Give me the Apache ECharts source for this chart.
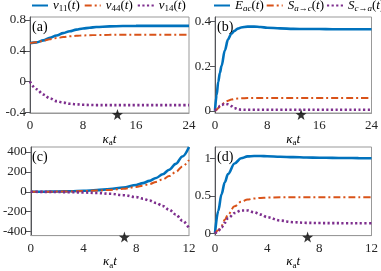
<!DOCTYPE html>
<html><head><meta charset="utf-8">
<script src="https://cdn.jsdelivr.net/npm/echarts@6/dist/echarts.min.js"></script>
<style>html,body{margin:0;padding:0;background:#fff}#c{width:381px;height:271px}</style>
</head><body><div id="c"></div>
<script>
// Panel (a)
const tA   = [0, 1, 2, 3, 4, 5, 6, 7, 8, 9, 10, 12, 14, 16, 18, 20, 22, 24];
const v11A = [0.5, 0.51, 0.535, 0.57, 0.6, 0.63, 0.655, 0.675, 0.69, 0.70, 0.71, 0.718, 0.722, 0.724, 0.725, 0.725, 0.725, 0.725];
const v44A = [0.5, 0.51, 0.53, 0.55, 0.565, 0.578, 0.588, 0.595, 0.6, 0.603, 0.605, 0.608, 0.61, 0.61, 0.61, 0.61, 0.61, 0.61];
const v14A = [0, -0.1, -0.17, -0.22, -0.255, -0.275, -0.29, -0.297, -0.302, -0.305, -0.307, -0.308, -0.308, -0.308, -0.308, -0.308, -0.308, -0.308];
// Panel (b)
const tB   = [0, 0.25, 0.5, 0.75, 1, 1.5, 2, 2.5, 3, 3.5, 4, 5, 6, 7, 8, 10, 12, 14, 16, 18, 20, 22, 24];
const eacB = [0, 0.07, 0.13, 0.17, 0.2, 0.27, 0.32, 0.345, 0.358, 0.368, 0.373, 0.377, 0.377, 0.375, 0.372, 0.369, 0.367, 0.366, 0.366, 0.365, 0.365, 0.365, 0.365];
const sacB = [0, 0.005, 0.012, 0.019, 0.026, 0.037, 0.045, 0.05, 0.053, 0.055, 0.056, 0.057, 0.057, 0.057, 0.057, 0.057, 0.057, 0.057, 0.057, 0.057, 0.057, 0.057, 0.057];
const scaB = [0, 0.008, 0.015, 0.021, 0.026, 0.031, 0.029, 0.021, 0.012, 0.007, 0.005, 0.0045, 0.0045, 0.0045, 0.0045, 0.0045, 0.0045, 0.0045, 0.0045, 0.0045, 0.0045, 0.0045, 0.0045];
// Panel (c)
const tC   = [0, 1, 2, 3, 4, 5, 6, 7, 8, 8.5, 9, 9.5, 10, 10.5, 11, 11.5, 12];
const v11C = [0, 1, 3, 6, 10, 17, 27, 43, 69, 87, 110, 139, 176, 222, 280, 355, 450];
const v44C = [0, 0.5, 2, 4, 7, 12, 19, 30, 49, 62, 78, 99, 125, 158, 200, 255, 320];
const v14C = [0, -0.5, -2, -4, -7, -12, -20, -33, -54, -69, -88, -112, -142, -180, -228, -290, -365];
// Panel (d)
const tD   = [0, 0.25, 0.5, 0.75, 1, 1.5, 2, 2.5, 3, 3.5, 4, 5, 6, 7, 8, 9, 10, 11, 12];
const eacD = [0, 0.3, 0.52, 0.68, 0.79, 0.93, 1.0, 1.025, 1.03, 1.03, 1.027, 1.02, 1.015, 1.01, 1.007, 1.005, 1.003, 1.002, 1.0];
const sacD = [0, 0.04, 0.1, 0.18, 0.25, 0.36, 0.42, 0.45, 0.465, 0.472, 0.476, 0.48, 0.48, 0.48, 0.48, 0.48, 0.48, 0.48, 0.48];
const scaD = [0, 0.03, 0.08, 0.14, 0.2, 0.27, 0.305, 0.305, 0.28, 0.25, 0.215, 0.17, 0.148, 0.14, 0.137, 0.136, 0.135, 0.135, 0.135];
// Star markers (x position, placed on the lower axis limit)
const starX = [13.2, 13.2, 7.1, 7.1];
// Axis limits and tick labels
const yMin = [-0.41, -0.01, -440, -0.03];
const yMax = [0.84, 0.42, 450, 1.15];
const yTicks = [[-0.4, 0, 0.4, 0.8], [0, 0.2, 0.4], [-400, -200, 0, 200, 400], [0, 0.5, 1]];
const xMax = [24, 24, 12, 12];
const xStep = [8, 8, 4, 4];
const panelLabels = ['(a)', '(b)', '(c)', '(d)'];
const legendA = ['v11', 'v44', 'v14'];
const legendB = ['Eac', 'Sac', 'Sca'];

const C1 = '#0072BD', C2 = '#D95319', C3 = '#7E2F8E';
const SERIF = 'Liberation Serif';
const grids = [
  {left: 30, top: 17, width: 159, height: 96},
  {left: 215, top: 17, width: 158, height: 96},
  {left: 30, top: 147, width: 159, height: 96},
  {left: 215, top: 147, width: 158, height: 96}
];
const rich = {
  i: {fontFamily: SERIF, fontStyle: 'italic', fontSize: 13, lineHeight: 16, color: '#000'},
  n: {fontFamily: SERIF, fontSize: 13, lineHeight: 16, color: '#000'},
  s: {fontFamily: SERIF, fontSize: 9, lineHeight: 9, verticalAlign: 'bottom', color: '#000'},
  si: {fontFamily: SERIF, fontStyle: 'italic', fontSize: 9, lineHeight: 9, verticalAlign: 'bottom', color: '#000'}
};
const legendText = {
  v11: '{i|v}{s|11}{n|(}{i|t}{n|)}',
  v44: '{i|v}{s|44}{n|(}{i|t}{n|)}',
  v14: '{i|v}{s|14}{n|(}{i|t}{n|)}',
  Eac: '{i|E}{si|ac}{n|(}{i|t}{n|)}',
  Sac: '{i|S}{si|a→c}{n|(}{i|t}{n|)}',
  Sca: '{i|S}{si|c→a}{n|(}{i|t}{n|)}'
};
const zip = (xs, ys) => xs.map((x, k) => [x, ys[k]]);
const styles = [
  {color: C1, width: 2.6, type: 'solid'},
  {color: C2, width: 2, type: [7, 3, 2, 3]},
  {color: C3, width: 2.6, type: [2.2, 2.4]}
];
const panels = [
  {t: tA, ys: [v11A, v44A, v14A], names: legendA},
  {t: tB, ys: [eacB, sacB, scaB], names: legendB},
  {t: tC, ys: [v11C, v44C, v14C], names: legendA},
  {t: tD, ys: [eacD, sacD, scaD], names: legendB}
];
const series = [];
panels.forEach((p, k) => {
  p.ys.forEach((y, j) => {
    series.push({
      type: 'line', name: p.names[j], xAxisIndex: k, yAxisIndex: k,
      data: zip(p.t, y), symbol: 'none', smooth: 0.35, smoothMonotone: 'x',
      lineStyle: {color: styles[j].color, width: styles[j].width, type: styles[j].type, cap: 'butt'},
      itemStyle: {color: styles[j].color}
    });
  });
  series.push({
    type: 'scatter', xAxisIndex: k, yAxisIndex: k, clip: false, silent: true,
    symbol: 'path://M0,-10 L2.35,-3.24 L9.51,-3.09 L3.8,1.24 L5.88,8.09 L0,4 L-5.88,8.09 L-3.8,1.24 L-9.51,-3.09 L-2.35,-3.24 Z',
    symbolSize: 11, symbolOffset: [0, 1.5], itemStyle: {color: '#000'},
    data: [[starX[k], yMin[k]]]
  });
});

const option = {
  animation: false,
  grid: grids.map(g => Object.assign({show: true, borderColor: '#999', borderWidth: 1}, g)),
  title: panelLabels.map((t, k) => ({
    text: t, left: grids[k].left + 2, top: grids[k].top + 3, padding: 0,
    textStyle: {fontFamily: SERIF, fontSize: 14, fontWeight: 'normal', color: '#000'}
  })),
  legend: [
    {data: legendA, left: 31, top: -1, itemGap: 4},
    {data: legendB, left: 213, top: -1, itemGap: 2}
  ].map(l => Object.assign({
    itemWidth: 16, itemHeight: 10, padding: 0, width: 360,
    itemStyle: {opacity: 0},
    formatter: n => legendText[n], textStyle: {rich: rich, fontSize: 13, fontFamily: SERIF}
  }, l)),
  xAxis: grids.map((g, k) => ({
    type: 'value', gridIndex: k, min: 0, max: xMax[k], interval: xStep[k],
    axisLine: {onZero: false, lineStyle: {color: '#999'}},
    splitLine: {lineStyle: {opacity: 0}},
    axisTick: {lineStyle: {opacity: 0}},
    axisLabel: {fontFamily: SERIF, fontSize: 13, color: '#262626', margin: 6},
    name: '{i|κ}{s|a}{i|t}', nameLocation: 'middle', nameGap: 17,
    nameTextStyle: {rich: rich}
  })),
  yAxis: grids.map((g, k) => ({
    type: 'value', gridIndex: k, min: yMin[k], max: yMax[k],
    axisLine: {onZero: false},
    splitLine: {lineStyle: {opacity: 0}},
    axisTick: {customValues: yTicks[k]},
    axisLabel: {customValues: yTicks[k], fontFamily: SERIF, fontSize: 13, color: '#262626', margin: 4}
  })),
  series: series
};
const chart = echarts.init(document.getElementById('c'));
chart.setOption(option);
</script></body></html>
